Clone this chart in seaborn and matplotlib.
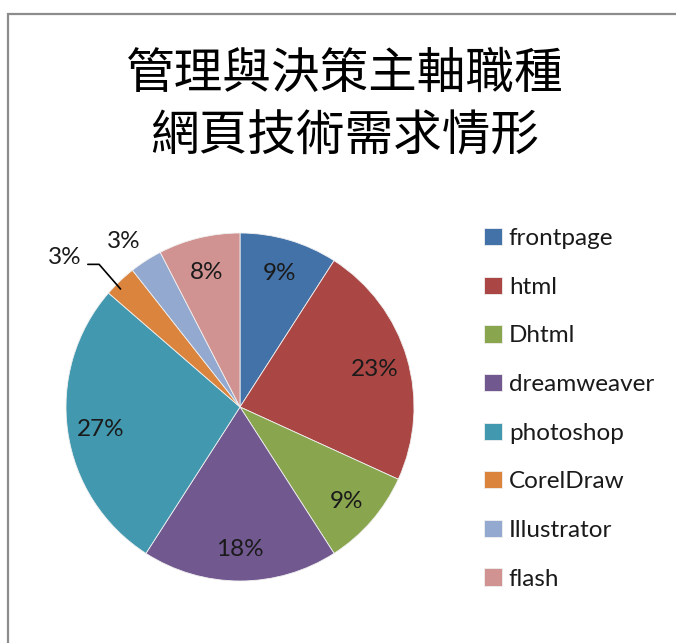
import numpy as np
import matplotlib
matplotlib.use("Agg")
import matplotlib.pyplot as plt
import seaborn as sns
from matplotlib.patches import Rectangle

categories = ["frontpage", "html", "Dhtml", "dreamweaver", "photoshop",
              "CorelDraw", "Illustrator", "flash"]
counts = [6, 15, 6, 12, 18, 2, 2, 5]
colors = ["#4372A8", "#AA4744", "#89A54E", "#71588F", "#4198AF",
          "#DB843D", "#93A9CF", "#D19392"]
title_lines = ["管理與決策主軸職種", "網頁技術需求情形"]

sns.set_theme(style="white")
plt.rcParams["font.family"] = ["Lato", "DejaVu Sans"]

W, H = 676, 643
fig = plt.figure(figsize=(W / 100, H / 100), dpi=100)
fig.patch.set_facecolor("white")

# frame (top-left portion visible)
fig.add_artist(Rectangle((8 / W, -0.1), 1.2, 1 - 14 / H + 0.1,
                         transform=fig.transFigure, fill=False,
                         edgecolor="#8c8c8c", linewidth=1.6))

cx, cy, r = 240, 407, 174
ax = fig.add_axes([(cx - r) / W, (H - cy - r) / H, 2 * r / W, 2 * r / H])

total = sum(counts)
FS = 17.5

def fmt(p):
    return "" if p < 5 else f"{p:.0f}%"

wedges, texts, autotexts = ax.pie(
    counts, colors=colors, startangle=90, counterclock=False,
    autopct=fmt, pctdistance=0.81, radius=1,
    wedgeprops=dict(edgecolor="#f0f0f0", linewidth=0.6),
    textprops=dict(fontsize=FS, color="#1a1a1a"))
for t in autotexts:
    t.set_va("center_baseline")
ax.set_xlim(-1, 1)
ax.set_ylim(-1, 1)
ax.set_aspect("equal")
ax.axis("off")

# small slice labels outside
for i, (w, c) in enumerate(zip(wedges, counts)):
    p = 100 * c / total
    if p >= 5:
        continue
    mid = np.deg2rad((w.theta1 + w.theta2) / 2)
    lab = f"{p:.0f}%"
    if categories[i] == "Illustrator":
        ax.text(1.16 * np.cos(mid + 0.04), 1.16 * np.sin(mid + 0.04), lab,
                ha="center", va="center", fontsize=FS, color="#1a1a1a",
                clip_on=False)
    else:
        ax.annotate(lab, xy=(0.965 * np.cos(mid + 0.03), 0.965 * np.sin(mid + 0.03)),
                    xytext=(-1.006, 0.862), ha="center", va="center",
                    fontsize=FS, color="#1a1a1a", annotation_clip=False,
                    arrowprops=dict(arrowstyle="-", color="black", lw=1.2,
                                    connectionstyle="angle,angleA=0,angleB=131,rad=0",
                                    relpos=(1.0, 0.15),
                                    shrinkA=2, shrinkB=0))

for txt, y in zip(title_lines, [74, 137]):
    fig.text(345 / W, 1 - y / H, txt, ha="center", va="center",
             fontsize=35, fontweight="light",
             family=["Noto Sans CJK TC", "DejaVu Sans"], color="black")

leg = fig.legend(wedges, categories, loc="upper left",
                 bbox_to_anchor=(484 / W, 1 - 228 / H),
                 frameon=False, fontsize=FS, handlelength=0.72,
                 handleheight=0.72, handletextpad=0.3, labelspacing=1.13,
                 borderpad=0, borderaxespad=0)
for t in leg.get_texts():
    t.set_color("#1a1a1a")

fig.savefig("out.png", dpi=100, facecolor="white")
